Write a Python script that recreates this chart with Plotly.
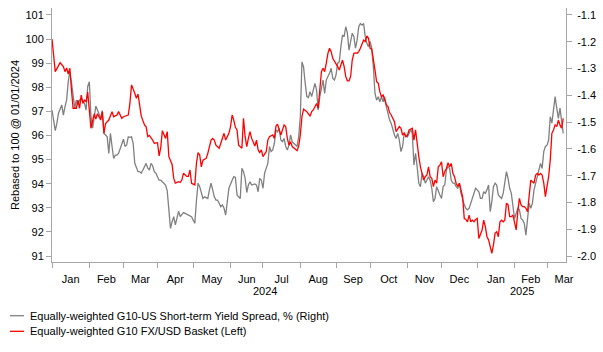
import numpy as np
import pandas as pd
import plotly.graph_objects as go

# ---- data: trading-day number since 2024-01-01 and values ----
red_tday = [0,1,2,5,7,8,9,10,11,12,13,15,16,17,18,19,20,21,22,24,25,26,27,28,30,31,32,33,35,36,37,38,40,41,43,44,46,47,48,49,
            51,52,53,54,55,57,58,59,60,62,63,65,66,67,68,70,71,72,74,75,76,78,79,80,81,83,84,85,86,88,89,90,91,92,93,95,96,98,99,100,
            101,103,104,106,107,109,110,111,112,113,114,115,117,118,119,120,121,122,123,125,126,127,128,129,130,132,133,134,136,137,138,139,140,141,
            143,144,145,146,147,148,150,151,152,153,154,155,157,158,159,160,161,163,164,165,166,167,168,169,170,171,172,173,175,176,177,178,179,180,
            181,182,183,184,185,186,187,188,189,190,191,192,193,194,195,196,197,198,199,200,201,202,203,204,205,206,207,208,209,211,212,214,215,216,
            217,218,219,220,222,223,224,225,226,227,228,229,230,231,232,233,234,235,236,237,238,239,240,241,242,243,244,245,246,247,248,249,250,251,
            252,253,254,255,256,257,258,259,260,261,262,263,265,266,267,268,269,270,271,272,273,274,275,276,277,278,279,280,281,282,283,284,285,286,
            287,288,289,290,291,292,293,294,295,296,297,298,299,300,301,302,303,304,305,306,307,308,309,310,311,312,313,314,315]
red_val = [100.0,99.13,98.65,99.02,98.86,98.65,98.8,98.55,98.79,97.89,97.13,97.13,97.47,97.13,97.68,97.33,97.47,97.4,97.8,96.3,96.64,96.9,96.68,96.9,96.64,96.99,96.09,96.5,96.64,96.78,96.99,96.78,96.85,96.99,96.71,96.78,96.85,96.85,97.33,98.1,
           97.75,97.54,97.72,97.13,96.8,96.44,96.36,95.95,96.0,95.81,95.68,95.7,95.15,95.5,96.2,95.88,96.16,95.12,94.8,94.22,94.02,94.08,94.05,94.15,94.43,94.3,94.3,94.57,94.02,93.95,94.85,95.29,95.2,94.7,94.98,95.05,95.26,95.81,95.88,95.81,
           95.6,95.47,95.68,96.09,95.81,96.09,96.37,96.85,96.64,96.34,96.23,95.6,95.47,96.71,95.95,95.54,95.88,96.16,95.88,95.56,95.81,95.4,95.29,95.4,95.12,95.33,95.81,95.95,96.02,95.88,96.39,96.47,96.23,96.02,
           96.44,96.37,95.88,95.6,95.74,95.54,95.43,95.37,95.56,96.02,96.78,97.09,96.99,96.89,96.8,96.99,97.06,97.33,97.13,97.89,98.65,98.79,98.65,99.0,99.41,99.62,99.48,99.2,99.0,98.86,98.72,98.93,99.13,98.86,
           98.44,98.27,98.27,98.44,99.13,99.41,99.43,99.41,99.48,99.62,99.83,99.96,99.9,100.13,100.03,99.62,99.58,99.2,98.72,98.23,98.17,97.82,97.61,97.68,97.47,97.27,97.2,96.95,96.85,96.57,96.16,96.37,96.3,96.02,
           96.1,95.95,96.0,96.23,96.3,95.81,96.23,95.54,95.12,94.7,94.43,94.15,94.29,94.36,94.7,94.29,94.22,93.88,94.15,94.02,94.7,94.77,94.91,94.29,94.5,94.63,94.87,94.7,94.84,94.43,94.29,94.02,93.88,94.02,
           93.74,93.46,92.56,92.52,92.42,92.7,92.42,92.49,92.42,92.52,92.56,91.73,92.08,92.49,92.22,91.8,91.67,91.39,91.11,91.46,91.94,92.01,91.8,92.42,92.49,92.42,92.49,93.19,93.12,92.63,92.63,92.7,92.36,92.08,
           92.84,93.39,93.12,93.05,93.05,92.98,92.84,93.6,94.15,94.08,94.02,94.36,94.43,94.36,94.43,94.36,94.02,93.46,93.88,94.29,94.98,96.09,96.23,96.44,96.37,96.64,96.44,96.3,96.71]

gray_tday = [0,1,2,3,4,6,7,8,9,10,11,12,13,14,15,16,17,18,19,20,21,22,23,24,25,26,27,28,30,31,32,33,34,35,36,37,38,39,40,41,
             42,43,44,45,46,47,48,49,50,51,52,53,54,55,56,57,58,59,60,61,62,63,64,65,66,67,69,70,71,72,73,74,75,76,77,78,79,80,81,82,
             84,86,87,88,89,90,91,92,93,94,96,97,98,99,100,101,102,103,104,105,106,107,108,109,111,112,113,114,115,116,117,118,119,120,
             121,122,123,125,126,127,128,129,130,131,132,133,134,135,136,137,138,139,140,141,142,143,144,145,146,147,148,149,150,151,152,153,154,155,
             156,157,158,159,160,162,163,164,165,166,167,168,169,170,171,172,173,174,175,176,177,178,179,180,181,182,183,184,185,186,187,188,189,190,
             191,192,193,194,195,196,197,198,199,200,201,202,203,204,205,206,207,208,209,210,211,212,213,214,215,216,217,218,219,221,222,223,224,225,
             226,227,228,229,230,231,232,233,234,235,236,237,238,239,240,241,242,243,244,245,246,247,248,249,250,251,252,253,254,255,256,257,258,259,
             261,262,263,264,265,266,267,268,269,270,271,272,273,274,275,276,277,278,279,280,281,282,283,284,285,286,287,288,289,290,291,292,293,294,
             295,296,297,298,299,300,301,302,303,304,305,306,307,308,309,310,311,312,313,314,315]
gray_val = [-1.455,-1.499,-1.532,-1.505,-1.467,-1.436,-1.474,-1.442,-1.418,-1.349,-1.312,-1.352,-1.405,-1.448,-1.418,-1.436,-1.418,-1.411,-1.418,-1.430,-1.455,-1.367,-1.349,-1.478,-1.523,-1.474,-1.440,-1.455,-1.486,-1.457,-1.542,-1.548,-1.555,-1.617,-1.542,-1.591,-1.636,-1.623,-1.623,-1.617,
            -1.598,-1.579,-1.564,-1.591,-1.585,-1.555,-1.557,-1.555,-1.579,-1.654,-1.667,-1.685,-1.685,-1.691,-1.679,-1.667,-1.654,-1.672,-1.679,-1.654,-1.663,-1.685,-1.691,-1.704,-1.717,-1.717,-1.728,-1.735,-1.757,-1.816,-1.897,-1.872,-1.853,-1.884,-1.860,-1.833,-1.853,-1.847,-1.838,-1.841,
            -1.847,-1.853,-1.866,-1.878,-1.793,-1.728,-1.741,-1.766,-1.785,-1.779,-1.785,-1.753,-1.728,-1.753,-1.779,-1.791,-1.791,-1.803,-1.816,-1.809,-1.822,-1.847,-1.791,-1.747,-1.717,-1.704,-1.707,-1.772,-1.779,-1.785,-1.672,-1.685,-1.710,-1.763,
            -1.735,-1.723,-1.735,-1.731,-1.735,-1.760,-1.710,-1.717,-1.747,-1.691,-1.672,-1.654,-1.591,-1.610,-1.604,-1.579,-1.529,-1.536,-1.523,-1.567,-1.573,-1.561,-1.591,-1.604,-1.586,-1.548,-1.573,-1.579,-1.586,-1.591,-1.555,-1.480,-1.275,-1.294,
            -1.355,-1.405,-1.408,-1.386,-1.405,-1.355,-1.380,-1.455,-1.405,-1.374,-1.343,-1.393,-1.343,-1.330,-1.318,-1.299,-1.337,-1.343,-1.324,-1.280,-1.275,-1.218,-1.175,-1.181,-1.144,-1.168,-1.231,-1.199,-1.168,-1.181,-1.224,-1.194,-1.144,-1.132,
            -1.138,-1.132,-1.181,-1.206,-1.218,-1.199,-1.224,-1.293,-1.393,-1.418,-1.405,-1.424,-1.405,-1.424,-1.405,-1.442,-1.474,-1.492,-1.505,-1.529,-1.548,-1.561,-1.542,-1.567,-1.610,-1.591,-1.542,-1.548,-1.555,-1.529,-1.542,-1.660,-1.617,-1.667,
            -1.728,-1.741,-1.691,-1.704,-1.728,-1.717,-1.704,-1.717,-1.747,-1.797,-1.785,-1.741,-1.760,-1.772,-1.785,-1.741,-1.735,-1.679,-1.667,-1.673,-1.717,-1.728,-1.728,-1.741,-1.747,-1.728,-1.766,-1.791,-1.809,-1.822,-1.828,-1.822,-1.803,-1.791,
            -1.747,-1.753,-1.760,-1.785,-1.785,-1.760,-1.766,-1.753,-1.735,-1.834,-1.797,-1.741,-1.728,-1.735,-1.772,-1.779,-1.785,-1.766,-1.728,-1.685,-1.710,-1.747,-1.766,-1.809,-1.860,-1.841,-1.822,-1.828,-1.860,-1.866,-1.878,-1.922,-1.866,-1.803,
            -1.822,-1.803,-1.753,-1.728,-1.704,-1.685,-1.654,-1.673,-1.610,-1.591,-1.586,-1.567,-1.480,-1.504,-1.442,-1.405,-1.448,-1.486,-1.448,-1.492,-1.542]

left_ticks = list(range(91, 102))
right_ticks = [-2.0, -1.9, -1.8, -1.7, -1.6, -1.5, -1.4, -1.3, -1.2, -1.1]
red_name = "Equally-weighted G10 FX/USD Basket (Left)"
gray_name = "Equally-weighted G10-US Short-term Yield Spread, % (Right)"
y_title = "Rebased to 100 @ 01/01/2024"

# ---- calendar of trading days ----
bdays = pd.bdate_range("2024-01-01", "2025-03-31")
per = bdays.to_period("M")
idx = pd.Series(np.arange(len(bdays)))
first = idx.groupby(per.values).min()
last = idx.groupby(per.values).max()
month_starts = list(first.values)
month_mids = [(s + e + 1) / 2 for s, e in zip(first.values, last.values)]
month_names = [p.strftime("%b") for p in first.index]

X_MAX = 316.7
years = pd.Series(bdays.year)
year_pos = {}
for y in (2024, 2025):
    ids = years[years == y].index
    lo = max(ids.min(), 0)
    hi = min(ids.max() + 1, X_MAX)
    year_pos[y] = (lo + hi) / 2

FONT = "Liberation Sans, Arial, sans-serif"
AX = "#a6a6a6"

fig = go.Figure()
fig.add_trace(go.Scatter(x=gray_tday, y=gray_val, mode="lines", name=gray_name,
                         line=dict(color="#808080", width=1.3), yaxis="y", showlegend=False))
fig.add_trace(go.Scatter(x=red_tday, y=red_val, mode="lines", name=red_name,
                         line=dict(color="#ff0000", width=1.3), yaxis="y2", showlegend=False))

L, R, T, B = 52, 37, 8, 90
W, H = 603, 352
pw, ph = W - L - R, H - T - B

fig.update_layout(
    width=W, height=H, margin=dict(l=L, r=R, t=T, b=B),
    paper_bgcolor="white", plot_bgcolor="white",
    font=dict(family=FONT, size=11, color="#000000"),
    xaxis=dict(range=[0, X_MAX], showgrid=False, zeroline=False, showline=True, linecolor=AX, linewidth=1,
               tickmode="array", tickvals=month_mids, ticktext=month_names, ticks="",
               ticklabelstandoff=7,
               tickfont=dict(size=11, color="#000"),
               minor=dict(tickmode="array", tickvals=month_starts, ticks="outside", ticklen=5,
                          tickcolor=AX, tickwidth=1, showgrid=False)),
    yaxis=dict(side="right", range=[-2.0224, -1.0739], tickmode="array", tickvals=right_ticks,
               ticktext=[f"{v:.1f}" for v in right_ticks], showgrid=False, zeroline=False,
               showline=True, linecolor=AX, ticks="outside", ticklen=5, tickcolor=AX,
               ticklabelstandoff=3,
               tickfont=dict(size=11, color="#000")),
    yaxis2=dict(side="left", overlaying="y", range=[90.751, 101.29], tickmode="array",
                tickvals=left_ticks, showgrid=False, zeroline=False, showline=True, linecolor=AX,
                ticks="outside", ticklen=5, tickcolor=AX, tickfont=dict(size=11, color="#000"),
                title=dict(text=y_title, font=dict(size=11, color="#000"), standoff=3)),
)

for yv, pos in year_pos.items():
    fig.add_annotation(x=pos, xref="x", y=(T + ph - 290.5) / ph, yref="paper", text=str(yv),
                       showarrow=False, font=dict(size=11, color="#000"), xanchor="center", yanchor="middle")

def px(xp):
    return (xp - L) / pw

def py(yp):
    return (T + ph - yp) / ph

for name, color, ycen in [(gray_name, "#808080", 315.7), (red_name, "#ff0000", 331.3)]:
    fig.add_shape(type="line", xref="paper", yref="paper", x0=px(10), x1=px(24), y0=py(ycen), y1=py(ycen),
                  line=dict(color=color, width=1.3))
    fig.add_annotation(x=px(28), y=py(ycen), xref="paper", yref="paper", text=name, showarrow=False,
                       xanchor="left", yanchor="middle", font=dict(size=11, color="#000"))

fig.write_html("out.html")
